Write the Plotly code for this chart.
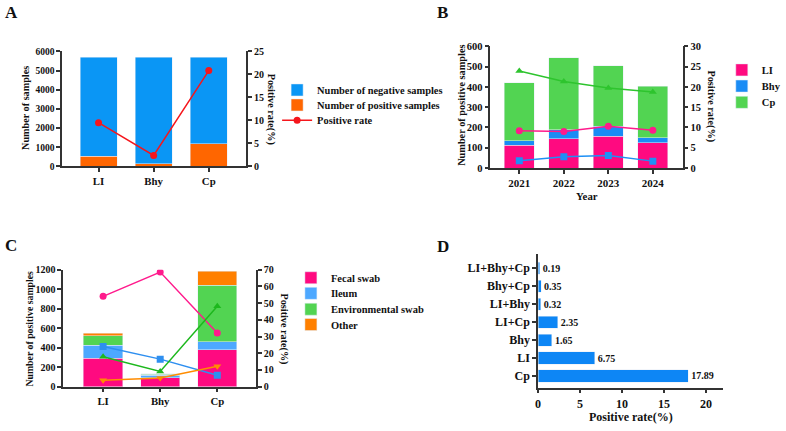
import plotly.graph_objects as go

# ---------------- data ----------------
# Panel A
a_cats = ["LI", "Bhy", "Cp"]
a_pos = [544, 137, 1188]
a_neg = [5166, 5573, 4522]
a_rate = [9.53, 2.41, 20.85]

# Panel B
b_years = ["2021", "2022", "2023", "2024"]
b_li = [112, 144, 157, 124]
b_bhy = [23, 44, 48, 24]
b_cp = [284, 354, 300, 255]
b_rate_li = [9.2, 9.0, 10.3, 9.3]
b_rate_bhy = [1.8, 2.8, 3.1, 1.7]
b_rate_cp = [23.9, 21.3, 19.7, 18.7]

# Panel C
c_cats = ["LI", "Bhy", "Cp"]
c_fecal = [293, 90, 377]
c_ileum = [134, 25, 83]
c_env = [96, 12, 580]
c_other = [24, 8, 143]
c_rate_fecal = [54.1, 68.6, 32.1]
c_rate_ileum = [24.1, 16.5, 6.8]
c_rate_env = [17.9, 9.1, 48.2]
c_rate_other = [3.9, 5.2, 12.2]

# Panel D
d_cats = ["Cp", "LI", "Bhy", "LI+Cp", "LI+Bhy", "Bhy+Cp", "LI+Bhy+Cp"]
d_vals = [17.89, 6.75, 1.65, 2.35, 0.32, 0.35, 0.19]

# ---------------- style ----------------
W, H = 786, 431
FONT = "Liberation Serif"
AX = "#333333"
LEG_OFF = 15  # legend top offset above item centre

def px(x):
    return x / W

def py(y):
    return 1 - y / H

fig = go.Figure()
legends = {}
_leg_n = [0]

def new_legend(text_x, centre_y, size):
    _leg_n[0] += 1
    key = "legend" if _leg_n[0] == 1 else f"legend{_leg_n[0]}"
    legends[key] = dict(x=px(text_x - 40), y=py(centre_y - LEG_OFF), xanchor="left",
                        yanchor="top", font=dict(size=size), bgcolor="rgba(0,0,0,0)")
    return key

# ---- Panel A ----
fig.add_trace(go.Bar(x=a_cats, y=a_pos, name="Number of positive samples",
                     marker_color="#FF6600", width=0.67, xaxis="x", yaxis="y",
                     legend=new_legend(318, 102.7, 10.4)))
fig.add_trace(go.Bar(x=a_cats, y=a_neg, name="Number of negative samples",
                     marker_color="#0A96F5", width=0.67, xaxis="x", yaxis="y",
                     legend=new_legend(318, 87.3, 10.4)))
fig.add_trace(go.Scatter(x=a_cats, y=a_rate, name="Positive rate", mode="lines+markers",
                         line=dict(color="#F5161C", width=1.5),
                         marker=dict(symbol="circle", size=7, color="#F5161C"),
                         xaxis="x", yaxis="y2", legend=new_legend(318, 118.3, 10.4)))

# ---- Panel B ----
b_cols = {"LI": "#FF0A80", "Bhy": "#1A8CF5", "Cp": "#52D452"}
for nm, vals, cy in [("LI", b_li, 66.7), ("Bhy", b_bhy, 83.3), ("Cp", b_cp, 100)]:
    fig.add_trace(go.Bar(x=b_years, y=vals, name=nm, marker_color=b_cols[nm], width=0.67,
                         xaxis="x2", yaxis="y3", legend=new_legend(769, cy, 10.5)))
for nm, vals, sym, col in [("LI", b_rate_li, "circle", "#FF1A8C"),
                           ("Bhy", b_rate_bhy, "square", "#1E90F5"),
                           ("Cp", b_rate_cp, "triangle-up", "#2EC42E")]:
    fig.add_trace(go.Scatter(x=b_years, y=vals, name=nm + " rate", mode="lines+markers",
                             line=dict(color=col, width=1.5),
                             marker=dict(symbol=sym, size=7, color=col),
                             xaxis="x2", yaxis="y4", showlegend=False))

# ---- Panel C ----
c_cols = {"Fecal swab": "#FF0A80", "Ileum": "#4DA8FF",
          "Environmental swab": "#52D452", "Other": "#FF8000"}
for nm, vals, cy in [("Fecal swab", c_fecal, 280), ("Ileum", c_ileum, 296),
                     ("Environmental swab", c_env, 312.3), ("Other", c_other, 328)]:
    fig.add_trace(go.Bar(x=c_cats, y=vals, name=nm, marker_color=c_cols[nm], width=0.69,
                         xaxis="x3", yaxis="y5", legend=new_legend(332, cy, 10.5)))
for nm, vals, sym, col in [("Fecal swab", c_rate_fecal, "circle", "#FF1A8C"),
                           ("Ileum", c_rate_ileum, "square", "#2E8FF0"),
                           ("Environmental swab", c_rate_env, "triangle-up", "#1DB81D"),
                           ("Other", c_rate_other, "triangle-down", "#FF8C00")]:
    fig.add_trace(go.Scatter(x=c_cats, y=vals, name=nm + " rate", mode="lines+markers",
                             line=dict(color=col, width=1.5),
                             marker=dict(symbol=sym, size=7, color=col),
                             xaxis="x3", yaxis="y6", showlegend=False))

# ---- Panel D ----
fig.add_trace(go.Bar(y=d_cats, x=d_vals, orientation="h", marker_color="#0D86F5",
                     width=0.67, text=[f"{v:.2f}" for v in d_vals],
                     textposition="outside", cliponaxis=False,
                     textfont=dict(size=10, family=FONT, color="#111"),
                     xaxis="x4", yaxis="y7", showlegend=False))

axcommon = dict(showline=True, linecolor=AX, linewidth=1.5, ticks="outside",
                ticklen=4, tickwidth=1.5, tickcolor=AX, showgrid=False,
                zeroline=False, fixedrange=True)

fig.update_layout(
    width=W, height=H, margin=dict(l=0, r=0, t=0, b=0),
    paper_bgcolor="white", plot_bgcolor="white",
    barmode="stack", bargap=0.33,
    font=dict(family=FONT, size=10, color="#111", weight="bold"),
    # A
    xaxis=dict(domain=[px(60), px(246.7)], anchor="y", type="category",
               range=[-0.66, 2.68], tickfont=dict(size=10.8), **axcommon),
    yaxis=dict(domain=[py(165.7), py(47.7)], anchor="x", range=[0, 6000], dtick=1000,
               tickfont=dict(size=9.5), **axcommon),
    yaxis2=dict(overlaying="y", side="right", anchor="x", range=[0, 25], dtick=5,
                tickfont=dict(size=10), **axcommon),
    # B
    xaxis2=dict(domain=[px(494.3), px(689.3)], anchor="y3", type="category",
                range=[-0.65, 3.67], tickfont=dict(size=11), **axcommon),
    yaxis3=dict(domain=[py(167.3), py(42.3)], anchor="x2", range=[0, 600], dtick=100,
                tickfont=dict(size=10.5), **axcommon),
    yaxis4=dict(overlaying="y3", side="right", anchor="x2", range=[0, 30], dtick=5,
                tickfont=dict(size=10.5), **axcommon),
    # C
    xaxis3=dict(domain=[px(61), px(256.7)], anchor="y5", type="category",
                range=[-0.70, 2.68], tickfont=dict(size=10.8), **axcommon),
    yaxis5=dict(domain=[py(391.7), py(271.7)], anchor="x3", range=[0, 1200], dtick=200,
                tickfont=dict(size=10), **axcommon),
    yaxis6=dict(overlaying="y5", side="right", anchor="x3", range=[0, 70], dtick=10,
                tickfont=dict(size=10), **axcommon),
    # D
    xaxis4=dict(domain=[px(542.7), px(730)], anchor="y7", range=[0, 22],
                tickvals=[0, 5, 10, 15, 20], tickfont=dict(size=12), **axcommon),
    yaxis7=dict(domain=[py(392.7), py(256)], anchor="x4", type="category",
                range=[-0.65, 6.76], tickfont=dict(size=12), **axcommon),
    **legends,
)

ann = []
def title(text, x, y, angle=0, size=10):
    ann.append(dict(text=text, x=px(x), y=py(y), xref="paper", yref="paper",
                    showarrow=False, textangle=angle, xanchor="center", yanchor="middle",
                    font=dict(size=size)))

# panel labels
for lab, x, y in [("A", 0, 8), ("B", 438, 7.5), ("C", 0, 246.7), ("D", 438, 247.5)]:
    ann.append(dict(text=lab, x=px(x), y=py(y), xref="paper", yref="paper",
                    showarrow=False, xanchor="left", yanchor="middle",
                    font=dict(size=17)))

title("Number of samples", 23, 106, -90, 10.2)
title("Positive rate(%)", 272, 106.7, 90, 10.2)
title("Number of positive samples", 465, 103, -90, 10.3)
title("Positive rate(%)", 718, 104, 90, 10.3)
title("Year", 592, 196, 0, 10.8)
title("Number of positive samples", 26.7, 331.7, -90, 9.8)
title("Positive rate(%)", 285, 332, 90, 10.2)
title("Positive rate(%)", 636.7, 423.3, 0, 12)

fig.update_layout(annotations=ann)
fig.write_html("out.html")
